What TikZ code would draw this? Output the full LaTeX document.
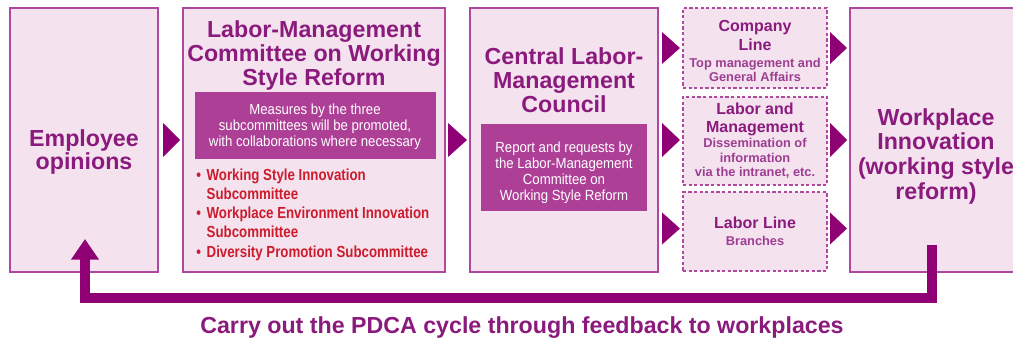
\documentclass[tikz,border=0pt]{standalone}
\usepackage{fontspec}
\setmainfont{Liberation Sans}
\newfontfamily\condA[FakeStretch=0.9]{Liberation Sans}
\newfontfamily\condB[FakeStretch=0.83]{Liberation Sans}
\usetikzlibrary{fit,calc,arrows.meta}
\definecolor{boxfill}{RGB}{244,226,239}
\definecolor{boxline}{RGB}{176,72,160}
\definecolor{arrowc}{RGB}{142,0,115}
\definecolor{innerfill}{RGB}{174,63,150}
\definecolor{titlec}{RGB}{139,26,125}
\definecolor{subc}{RGB}{158,62,146}
\definecolor{redc}{RGB}{204,28,44}
\begin{document}
\begin{tikzpicture}[x=0.75pt,y=-0.75pt,
  mainbox/.style={draw=boxline, fill=boxfill, line width=1.3pt, inner sep=0pt, outer sep=0pt},
  dashbox/.style={draw=boxline, fill=boxfill, line width=1pt, dash pattern=on 2.4pt off 1.8pt, inner sep=0pt, outer sep=0pt},
  innerbox/.style={fill=innerfill, draw=none, inner sep=0pt, outer sep=0pt},
  title/.style={font=\fontsize{17.4}{18}\selectfont\bfseries, text=titlec, align=center, inner sep=0pt, anchor=base},
  intext/.style={font=\condA\fontsize{11}{11.7}\selectfont, text=white, align=center, inner sep=0pt, anchor=base},
  bullets/.style={font=\condB\bfseries\fontsize{12}{14.4}\selectfont, text=redc, align=left, inner sep=0pt, anchor=base west},
  dtitle/.style={font=\fontsize{12}{13.5}\selectfont\bfseries, text=titlec, align=center, inner sep=0pt, anchor=base},
  dsub/.style={font=\fontsize{9.6}{10.8}\selectfont\bfseries, text=subc, align=center, inner sep=0pt, anchor=base},
  tri/.style={fill=arrowc, draw=none},
  feedback/.style={draw=arrowc, line width=7.5pt, line join=miter, -{Triangle[width=20pt,length=15.5pt]}}
]
\useasboundingbox (0,0) rectangle (1013,339);
\clip (0,0) rectangle (1013,339);
\fill[white] (0,0) rectangle (1013,339);

% boxes
\node[mainbox, fit={(10,8) (158,272)}] (emp) {};
\node[mainbox, fit={(183,8) (445,272)}] (lmc) {};
\node[innerbox, fit={(195,92) (436,159)}] (lmcin) {};
\node[mainbox, fit={(470,8) (658,272)}] (clc) {};
\node[innerbox, fit={(481,124) (647,211)}] (clcin) {};
\node[dashbox, fit={(683,8) (827,88)}] (d1) {};
\node[dashbox, fit={(683,97) (827,185)}] (d2) {};
\node[dashbox, fit={(683,192) (827,271)}] (d3) {};
\node[mainbox, fit={(850,8) (1022,272)}] (work) {};

% texts (anchor base = baseline of the last line)
\node[title, font=\fontsize{17.4}{17.3}\selectfont\bfseries] (empT) at (84,169.7) {Employee\\opinions};
\node[title] (lmcT) at (314,85) {Labor-Management\\Committee on Working\\Style Reform};
\node[intext] (lmcinT) at (315,146) {Measures by the three\\subcommittees will be promoted,\\with collaborations where necessary};
\node[bullets] (bul) at (196,257) {\makebox[7.8pt][l]{•}Working Style Innovation\\\hspace*{7.8pt}Subcommittee\\\makebox[7.8pt][l]{•}Workplace Environment Innovation\\\hspace*{7.8pt}Subcommittee\\\makebox[7.8pt][l]{•}Diversity Promotion Subcommittee};
\node[title] (clcT) at (564,112) {Central Labor-\\Management\\Council};
\node[intext, font=\condA\fontsize{11}{11.8}\selectfont] (clcinT) at (564,200) {Report and requests by\\the Labor-Management\\Committee on\\Working Style Reform};
\node[dtitle, font=\fontsize{12}{13.75}\selectfont\bfseries] (d1T) at (755,50) {Company\\Line};
\node[dsub, font=\fontsize{9.6}{10.5}\selectfont\bfseries] (d1S) at (755,81.7) {Top management and\\General Affairs};
\node[dtitle, font=\fontsize{12}{13.3}\selectfont\bfseries] (d2T) at (755,132.7) {Labor and\\Management};
\node[dsub, font=\fontsize{9.6}{10.9}\selectfont\bfseries] (d2S) at (755,176.7) {Dissemination of\\information\\via the intranet, etc.};
\node[dtitle] (d3T) at (755,228.3) {Labor Line};
\node[dsub] (d3S) at (755,245.7) {Branches};
\node[title, font=\fontsize{17.4}{18.5}\selectfont\bfseries] (workT) at (936,199.3) {Workplace\\Innovation\\(working style\\reform)};
\node[title] (cap) at (522,333) {Carry out the PDCA cycle through feedback to workplaces};

% triangle connectors
\fill[tri] ($(emp.east)+(5,-17)$) -- ++(17,17) -- ++(-17,17) -- cycle;
\fill[tri] ($(lmc.east)+(3,-17)$) -- ++(19,17) -- ++(-19,17) -- cycle;
\fill[tri] ($(clc.east |- d1.east)+(4,-16)$) -- ++(18,16) -- ++(-18,16) -- cycle;
\fill[tri] ($(clc.east)+(4,-17)$) -- ++(18,17) -- ++(-18,17) -- cycle;
\fill[tri] ($(clc.east |- d3.east)+(4,-19)$) -- ++(18,16) -- ++(-18,16) -- cycle;
\fill[tri] ($(d1.east)+(3,-16)$) -- ++(17,16) -- ++(-17,16) -- cycle;
\fill[tri] ($(d2.east)+(3,-18)$) -- ++(17,17) -- ++(-17,17) -- cycle;
\fill[tri] ($(d3.east)+(3,-19)$) -- ++(17,16) -- ++(-17,16) -- cycle;

% feedback connector
\coordinate (fbs) at ($(work.south)+(-4,-27)$);
\coordinate (fbe) at ($(emp.south)+(1,-33)$);
\coordinate (fby) at (0,298);
\draw[feedback] (fbs) -- (fbs |- fby) -- (fbe |- fby) -- (fbe);
\end{tikzpicture}
\end{document}
